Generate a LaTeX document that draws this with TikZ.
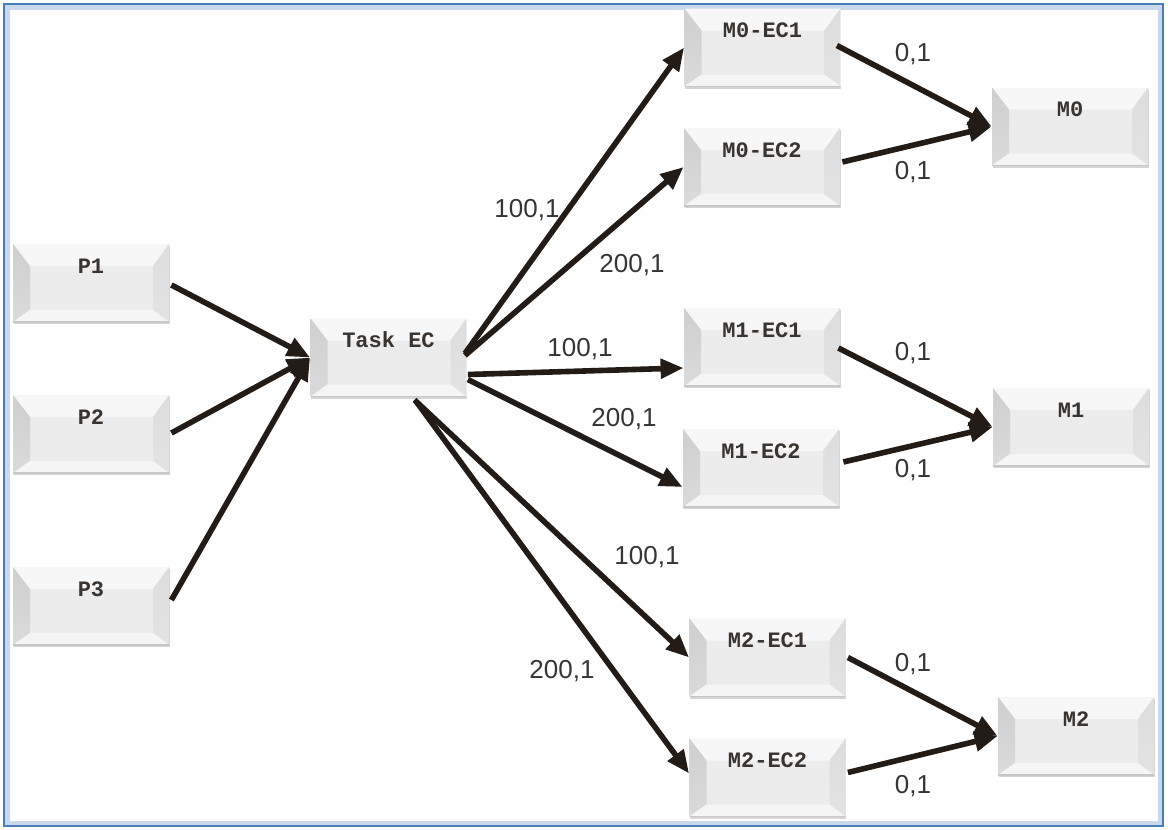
\documentclass[tikz,border=0pt]{standalone}
\usepackage{fontspec}
\setmainfont{Liberation Sans}
\setmonofont{Liberation Mono}
\usetikzlibrary{arrows.meta,calc,shadows}
\definecolor{arrowc}{HTML}{231B16}
\definecolor{lblc}{HTML}{353535}
\definecolor{nodetext}{HTML}{3A3430}
\definecolor{face}{HTML}{ECECEC}
\definecolor{bevtop}{HTML}{F7F7F7}
\definecolor{bevleft}{HTML}{CFCFCF}
\definecolor{bevright}{HTML}{DDDDDD}
\definecolor{bevbot}{HTML}{F5F5F5}
\definecolor{frameblue}{HTML}{4A7EBB}
\definecolor{frameglow}{HTML}{C9D8EC}
\tikzset{
  btnbox/.style={
    minimum width=78pt, minimum height=39pt, inner sep=0pt,
    text height=14.5pt, text depth=24.5pt,
    font=\ttfamily\bfseries\fontsize{11}{13}\selectfont, text=nodetext,
    fill=face,
    drop shadow={shadow xshift=0.4pt, shadow yshift=-1.2pt, opacity=0.3, fill=black!55},
    path picture={
      \coordinate (bnw) at (path picture bounding box.north west);
      \coordinate (bne) at (path picture bounding box.north east);
      \coordinate (bsw) at (path picture bounding box.south west);
      \coordinate (bse) at (path picture bounding box.south east);
      \fill[bevtop] (bnw) -- (bne) -- ($(bne)+(-8pt,-11pt)$) -- ($(bnw)+(8.5pt,-11pt)$) -- cycle;
      \shade[top color=bevleft, bottom color=bevleft!60!face] (bnw) -- ($(bnw)+(8.5pt,-11pt)$) -- ($(bsw)+(8.5pt,6pt)$) -- (bsw) -- cycle;
      \shade[top color=bevright, bottom color=bevright!60!face] (bne) -- ($(bne)+(-8pt,-11pt)$) -- ($(bse)+(-8pt,6pt)$) -- (bse) -- cycle;
      \fill[bevbot] (bsw) -- ($(bsw)+(8.5pt,6pt)$) -- ($(bse)+(-8pt,6pt)$) -- (bse) -- cycle;
      \draw[black!22, line width=0.6pt] (bsw) -- (bse);
    }
  },
  arr/.style={draw=arrowc, line width=2.8pt, -{Triangle[length=11.5pt,width=9.5pt]}},
  lbl/.style={font=\fontsize{13}{15}\selectfont, text=lblc, inner sep=0pt}
}
\begin{document}
\begin{tikzpicture}[x=0.5pt,y=-0.5pt]
\useasboundingbox (0,0) rectangle (1168,830);
\draw[frameglow, line width=2.5pt] (7,7) rectangle (1160,823);
\draw[frameblue, line width=1.3pt] (4,4) rectangle (1163,826);

% nodes
\node[btnbox] (P1) at (91,283) {P1};
\node[btnbox] (P2) at (91,434) {P2};
\node[btnbox] (P3) at (91,606) {P3};
\node[btnbox] (TaskEC) at (388.5,357.5) {Task EC};
\node[btnbox] (M0EC1) at (762.5,47.5) {M0-EC1};
\node[btnbox] (M0EC2) at (762,167) {M0-EC2};
\node[btnbox] (M0) at (1070,126.5) {M0};
\node[btnbox] (M1EC1) at (762,347) {M1-EC1};
\node[btnbox] (M1EC2) at (761,468) {M1-EC2};
\node[btnbox] (M1) at (1071,427) {M1};
\node[btnbox] (M2EC1) at (767.5,657.5) {M2-EC1};
\node[btnbox] (M2EC2) at (767.5,777.5) {M2-EC2};
\node[btnbox] (M2) at (1076,736) {M2};

% connectors
\draw[arr] ($(P1.east)+(2,2)$) -- (TaskEC.west);
\draw[arr] ($(P2.east)+(2,-1)$) -- (TaskEC.west);
\draw[arr] ($(P3.east)+(2,-6)$) -- (TaskEC.west);

\draw[arr] ($(TaskEC.east)+(-2,-4)$) -- (M0EC1.west);
\draw[arr] ($(TaskEC.east)+(-2,-2)$) -- (M0EC2.west);
\draw[arr] ($(TaskEC.east)+(1,17)$) -- ($(M1EC1.west)+(0,21)$);
\draw[arr] ($(TaskEC.east)+(1,22)$) -- ($(M1EC2.west)+(0,19)$);
\draw[arr] ($(TaskEC.south)+(26,3)$) -- (M2EC1.west);
\draw[arr] ($(TaskEC.south)+(28,5)$) -- ($(M2EC2.west)+(0,-4)$);

\draw[arr] ($(M0EC1.east)+(-4,-2)$) -- (M0.west);
\draw[arr] ($(M0EC2.east)+(2,-5)$) -- (M0.west);
\draw[arr] ($(M1EC1.east)+(-2,1)$) -- (M1.west);
\draw[arr] ($(M1EC2.east)+(4,-6)$) -- (M1.west);
\draw[arr] ($(M2EC1.east)+(2,0)$) -- (M2.west);
\draw[arr] ($(M2EC2.east)+(2,-5)$) -- (M2.west);

% labels
\node[lbl] (L1) at (527,210) {100,1};
\node[lbl] (L2) at (632,265) {200,1};
\node[lbl] (L3) at (580,349) {100,1};
\node[lbl] (L4) at (624,419) {200,1};
\node[lbl] (L5) at (647,557) {100,1};
\node[lbl] (L6) at (562,671) {200,1};
\node[lbl] (L7) at (913,54) {0,1};
\node[lbl] (L8) at (913,172) {0,1};
\node[lbl] (L9) at (913,353) {0,1};
\node[lbl] (L10) at (913,470) {0,1};
\node[lbl] (L11) at (913,664) {0,1};
\node[lbl] (L12) at (913,786) {0,1};
\end{tikzpicture}
\end{document}
